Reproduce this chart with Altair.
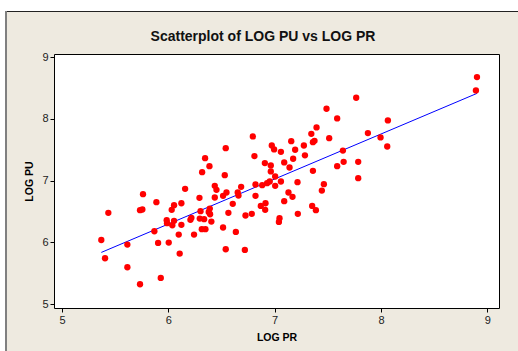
import altair as alt
import pandas as pd

log_pr = [5.37, 5.405, 5.436, 5.615, 5.615, 5.734, 5.734, 5.756, 5.762, 5.869,
          5.888, 5.904, 5.929, 5.985, 5.988, 6.004, 6.032, 6.038, 6.054, 6.054,
          6.098, 6.107, 6.123, 6.123, 6.158, 6.208, 6.217, 6.242, 6.293, 6.303,
          6.296, 6.318, 6.315, 6.337, 6.346, 6.349, 6.38, 6.387, 6.39, 6.393,
          6.405, 6.437, 6.437, 6.453, 6.515, 6.515, 6.531, 6.54, 6.54, 6.547,
          6.565, 6.606, 6.635, 6.653, 6.66, 6.685, 6.72, 6.726, 6.785, 6.795,
          6.81, 6.82, 6.82, 6.87, 6.883, 6.908, 6.911, 6.914, 6.929, 6.954,
          6.964, 6.964, 6.973, 6.995, 7.005, 7.005, 7.04, 7.046, 7.059, 7.059,
          7.09, 7.09, 7.13, 7.14, 7.156, 7.168, 7.174, 7.193, 7.215, 7.218,
          7.275, 7.285, 7.345, 7.353, 7.36, 7.36, 7.375, 7.388, 7.394, 7.444,
          7.463, 7.488, 7.513, 7.588, 7.588, 7.642, 7.649, 7.767, 7.786, 7.786,
          7.877, 7.996, 8.059, 8.065, 8.893, 8.903]
log_pu = [6.04, 5.745, 6.479, 5.966, 5.599, 5.324, 6.522, 6.533, 6.781, 6.182,
          6.652, 5.993, 5.426, 6.36, 6.312, 5.999, 6.528, 6.279, 6.35, 6.603,
          6.128, 5.821, 6.635, 6.285, 6.868, 6.366, 6.398, 6.128, 6.722, 6.506,
          6.387, 7.138, 6.215, 6.377, 7.364, 6.215, 6.495, 7.235, 6.549, 6.457,
          6.338, 6.916, 6.727, 6.851, 6.242, 6.754, 7.089, 7.526, 5.891, 6.808,
          6.479, 6.625, 6.171, 6.808, 6.759, 6.9, 5.88, 6.436, 6.463, 7.715,
          7.398, 6.938, 6.754, 6.592, 6.927, 7.284, 6.528, 6.635, 6.959, 6.986,
          7.246, 7.149, 7.569, 7.505, 7.067, 6.916, 6.333, 6.393, 7.467, 6.986,
          7.295, 6.668, 6.808, 7.213, 7.639, 6.738, 7.354, 7.5, 6.976, 6.463,
          7.569, 7.41, 7.758, 6.592, 7.159, 7.623, 7.645, 6.522, 7.861, 6.84,
          6.943, 8.163, 7.688, 8.007, 7.235, 7.487, 7.305, 8.341, 7.305, 7.04,
          7.769, 7.699, 7.553, 7.974, 8.46, 8.676]

tick_values = [5, 6, 7, 8, 9]
title_text = "Scatterplot of LOG PU vs LOG PR"

df = pd.DataFrame({"LOG PR": log_pr, "LOG PU": log_pu})
one = pd.DataFrame({"a": [0]})

W, H = 445, 254
L, T = 54, 54

xscale = alt.Scale(domain=[4.925, 9.11], nice=False, zero=False)
yscale = alt.Scale(domain=[4.94, 9.049], nice=False, zero=False)

xaxis = alt.Axis(values=tick_values, format="d", grid=False, domain=False, tickSize=4,
                 tickColor="#000000", labelFontSize=11, labelColor="#222222",
                 labelFont="Liberation Sans", labelPadding=2,
                 titleFont="Liberation Sans", titleFontSize=10.5, titleFontWeight="bold",
                 titleColor="#000000", titlePadding=7)
yaxis = alt.Axis(values=tick_values, format="d", grid=False, domain=False, tickSize=4,
                 tickColor="#000000", labelFontSize=11, labelColor="#222222",
                 labelFont="Liberation Sans", labelPadding=2,
                 titleFont="Liberation Sans", titleFontSize=10.5, titleFontWeight="bold",
                 titleColor="#000000", titlePadding=7)

# decorations (outer panel edges)
white_left = alt.Chart(one).mark_rect(color="white").encode(
    x=alt.value(-L), x2=alt.value(5 - L), y=alt.value(-T), y2=alt.value(351 - T))
white_top = alt.Chart(one).mark_rect(color="white").encode(
    x=alt.value(-L), x2=alt.value(518 - L), y=alt.value(-T), y2=alt.value(11 - T))
top_line = alt.Chart(one).mark_rule(color="#222222", strokeWidth=1).encode(
    x=alt.value(6 - L), x2=alt.value(518 - L), y=alt.value(11.5 - T))
left_line = alt.Chart(one).mark_rule(color="#808080", strokeWidth=2).encode(
    x=alt.value(6 - L), y=alt.value(11 - T), y2=alt.value(351 - T))

title = alt.Chart(one).mark_text(
    text=title_text, font="Liberation Sans", fontSize=14, fontWeight="bold",
    color="#111111", align="center", baseline="alphabetic").encode(
    x=alt.value(263 - L), y=alt.value(41 - T))

points = alt.Chart(df).mark_circle(color="#FF0000", opacity=1, size=40).encode(
    x=alt.X("LOG PR:Q", scale=xscale, axis=xaxis, title="LOG PR"),
    y=alt.Y("LOG PU:Q", scale=yscale, axis=yaxis, title="LOG PU"),
)

fit = alt.Chart(df).transform_regression("LOG PR", "LOG PU").mark_line(
    color="#0000FF", strokeWidth=1).encode(
    x=alt.X("LOG PR:Q", scale=xscale),
    y=alt.Y("LOG PU:Q", scale=yscale),
)

chart = alt.layer(white_left, white_top, top_line, left_line, title, fit, points).properties(
    width=W, height=H,
    padding={"left": L, "top": T, "right": 518 - L - W, "bottom": 351 - T - H},
    autosize=alt.AutoSizeParams(type="none"),
    background="#EEEAE0",
).configure_view(fill="white", stroke="#000000", strokeWidth=1)

chart.save("out.html", embed_options={"renderer": "svg", "actions": False})
